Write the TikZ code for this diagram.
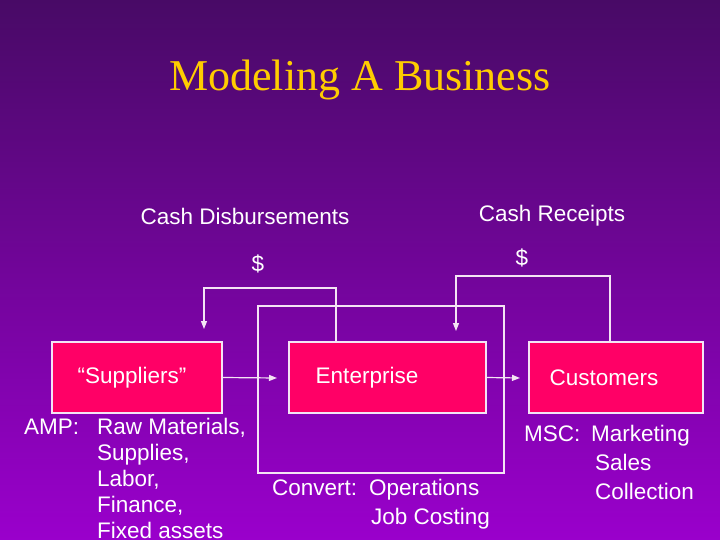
\documentclass[tikz,border=0pt]{standalone}
\usepackage{fontspec}
\setmainfont{Liberation Serif}
\newfontfamily\arial{Liberation Sans}
\usetikzlibrary{arrows.meta}
\definecolor{bgtop}{HTML}{480A66}
\definecolor{bgbot}{HTML}{9A00CC}
\definecolor{boxred}{HTML}{FF0066}
\definecolor{ttl}{HTML}{FFCC00}
\definecolor{ln}{HTML}{F4E4F4}
\begin{document}
\begin{tikzpicture}[x=1pt,y=-1pt,
  lbl/.style={text=white,font=\arial\fontsize{22.5}{26}\selectfont,inner sep=0pt},
  bl/.style={lbl,anchor=base west},
  box/.style={fill=boxred,draw=ln,line width=1.2pt,inner sep=0pt},
  flow/.style={draw=ln,line width=1.2pt},
  arr/.style={flow,-{Triangle[width=6pt,length=8pt]}}]
\shade[top color=bgtop,bottom color=bgbot] (0,0) rectangle (720,540);
\useasboundingbox (0,0) rectangle (720,540);
\node[text=ttl,font=\fontsize{44}{48}\selectfont] (title) at (360,80) {Modeling A Business};
\node[lbl] (cd) at (245,216) {Cash Disbursements};
\node[lbl] (cr) at (552,216) {Cash Receipts};
\node[lbl] (d1) at (258,264) {\$};
\node[lbl] (d2) at (522,258) {\$};
\draw[flow] (258,306) rectangle (504,473);
\node[box,minimum width=170pt,minimum height=71pt] (sup) at (137,377.5) {};
\node[box,minimum width=197pt,minimum height=71pt] (ent) at (387.5,377.5) {};
\node[box,minimum width=174pt,minimum height=71pt] (cus) at (616,377.5) {};
\node[lbl] at (132,378) {“Suppliers”};
\node[lbl] at (367,378) {Enterprise};
\node[lbl] at (604,378) {Customers};
\coordinate (a1) at (336,288); \coordinate (a2) at (204,288);
\draw[arr] (ent.north -| a1) -- (a1) -- (a2) -- (204,329);
\coordinate (b1) at (610,276); \coordinate (b2) at (456,276);
\draw[arr] (cus.north -| b1) -- (b1) -- (b2) -- (456,331);
\draw[arr] (sup.east) -- (277,378);
\draw[arr] (ent.east) -- (520,378);
\node[bl] at (24,434.6) {AMP:};
\node[bl] at (97,434.6) {Raw Materials,};
\node[bl] at (97,460.6) {Supplies,};
\node[bl] at (97,486.6) {Labor,};
\node[bl] at (97,512.6) {Finance,};
\node[bl] at (97,538.6) {Fixed assets};
\node[bl] at (272,495.6) {Convert:};
\node[bl] at (369,495.6) {Operations};
\node[bl] at (371,524.6) {Job Costing};
\node[bl] at (524,441.6) {MSC:};
\node[bl] at (591,441.6) {Marketing};
\node[bl] at (595,470.6) {Sales};
\node[bl] at (595,499.6) {Collection};
\end{tikzpicture}
\end{document}
